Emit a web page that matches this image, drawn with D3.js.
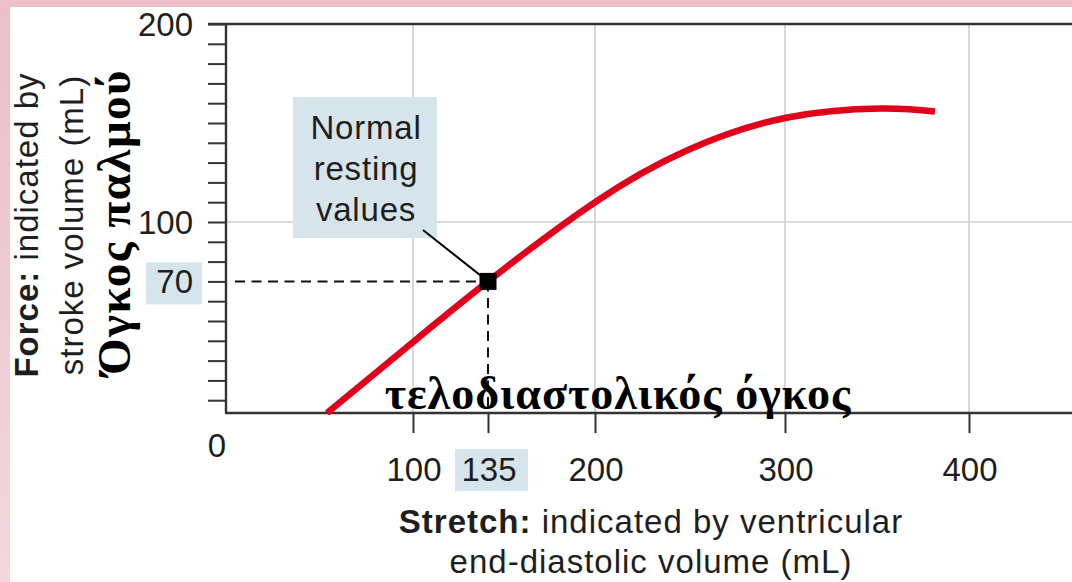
<!DOCTYPE html>
<html>
<head>
<meta charset="utf-8">
<script src="https://cdn.jsdelivr.net/npm/d3@7"></script>
<style>
  html, body { margin: 0; padding: 0; background: #fff; }
  svg { display: block; }
  .sans { font-family: "Liberation Sans", Arial, Helvetica, sans-serif; fill: #1e1e1e; }
  .greek { font-family: "Liberation Serif", "Times New Roman", "DejaVu Serif", serif; font-weight: bold; fill: #000; }
</style>
</head>
<body>
<script>
// ---- data ----
const xTickValues = [100, 135, 200, 300, 400];
const xTickLabels = ["100", "135", "200", "300", "400"];
const yTickValues = [200, 100, 70];
const yTickLabels = ["200", "100", "70"];
const yMinorTicks = d3.range(10, 201, 10);
const xGridValues = [100, 200, 300, 400];
const yGridValues = [100];
// Frank-Starling curve: end-diastolic volume (mL) vs stroke volume (mL)
const edv = [54, 97, 135, 200, 248, 300, 352, 381.5];
const strokeVolume = [3.5, 37, 70, 110, 136, 152.5, 157.3, 155.8];
const restingEDV = [135];
const restingSV = [70];
const annotationLines = ["Normal", "resting", "values"];
const yTitleLines = [["Force:", " indicated by"], ["", "stroke volume (mL)"]];
const xTitleLines = [["Stretch:", " indicated by ventricular"], ["", "end-diastolic volume (mL)"]];
const yGreekTitle = "Όγκος παλμού";
const xGreekTitle = "τελοδιαστολικός όγκος";

const W = 1072, H = 582;
const svg = d3.select("body").append("svg").attr("width", W).attr("height", H);

// pink slide frame
const defs = svg.append("defs");
const grad = defs.append("linearGradient").attr("id", "pinkGrad").attr("x1", 0).attr("y1", 0).attr("x2", 0).attr("y2", 1);
grad.append("stop").attr("offset", "0%").attr("stop-color", "#eabfc9");
grad.append("stop").attr("offset", "100%").attr("stop-color", "#f2d7dd");
svg.append("rect").attr("x", 0).attr("y", 0).attr("width", 10).attr("height", H).attr("fill", "url(#pinkGrad)");
svg.append("rect").attr("x", 0).attr("y", 0).attr("width", W).attr("height", 7).attr("fill", "#ebc1ca");

// ---- scales ----
const x = d3.scaleLinear()
  .domain([0, 100, 135, 200, 300, 400, 456])
  .range([226, 413, 488, 595, 785, 969, W]);
const y = d3.scaleLinear().domain([0, 200]).range([420, 24]);
const axisFloor = 3.5;        // value where the x axis is drawn
const x0 = x(0), yBase = y(axisFloor), yTop = y(200);

// ---- grid ----
svg.append("g").selectAll("line").data(xGridValues).join("line")
  .attr("x1", d => x(d)).attr("x2", d => x(d))
  .attr("y1", yTop).attr("y2", yBase)
  .attr("stroke", "#cfcfcf").attr("stroke-width", 1.6);
svg.append("g").selectAll("line").data(yGridValues).join("line")
  .attr("x1", x0).attr("x2", W)
  .attr("y1", d => y(d)).attr("y2", d => y(d))
  .attr("stroke", "#cfcfcf").attr("stroke-width", 1.6);

// ---- highlight boxes ----
const hlColor = "#d6e5ec";
svg.append("rect").attr("x", x(135) - 33).attr("y", yBase + 36).attr("width", 73).attr("height", 42).attr("fill", hlColor);
svg.append("rect").attr("x", x0 - 80).attr("y", y(70) - 19).attr("width", 56).attr("height", 42).attr("fill", hlColor);

// ---- axes ----
const axisColor = "#333";
const yAxis = d3.axisLeft(y).tickValues(yMinorTicks).tickSize(18).tickFormat("");
const gy = svg.append("g").attr("transform", `translate(${x0},0)`).call(yAxis);
gy.select(".domain").remove();
gy.selectAll(".tick line").attr("stroke", axisColor).attr("stroke-width", 2);
svg.append("line").attr("x1", x0).attr("x2", x0).attr("y1", yTop).attr("y2", yBase)
  .attr("stroke", axisColor).attr("stroke-width", 2.4);
svg.append("line").attr("x1", x0 - 18).attr("x2", W).attr("y1", yTop).attr("y2", yTop)
  .attr("stroke", axisColor).attr("stroke-width", 2.6);
const xAxis = d3.axisBottom(x).tickValues(xTickValues).tickSize(20).tickFormat("");
const gx = svg.append("g").attr("transform", `translate(0,${yBase})`).call(xAxis);
gx.select(".domain").remove();
gx.selectAll(".tick line").attr("stroke", axisColor).attr("stroke-width", 2);
svg.append("line").attr("x1", x0 - 1).attr("x2", W).attr("y1", yBase).attr("y2", yBase)
  .attr("stroke", axisColor).attr("stroke-width", 2.4);

// tick labels
svg.append("g").selectAll("text").data(yTickValues).join("text")
  .attr("class", "sans").attr("x", x0 - 33).attr("y", d => y(d) + 12)
  .attr("text-anchor", "end").attr("font-size", 33)
  .text((d, i) => yTickLabels[i]);
svg.append("g").selectAll("text").data(xTickValues).join("text")
  .attr("class", "sans").attr("x", d => x(d) + 1).attr("y", yBase + 68)
  .attr("text-anchor", "middle").attr("font-size", 33)
  .text((d, i) => xTickLabels[i]);
svg.append("text").attr("class", "sans").attr("x", x0 - 9).attr("y", yBase + 44)
  .attr("text-anchor", "middle").attr("font-size", 33).text("0");

// ---- dashed guides ----
svg.append("line").attr("x1", x0 + 9).attr("x2", x(restingEDV[0])).attr("y1", y(restingSV[0])).attr("y2", y(restingSV[0]))
  .attr("stroke", "#111").attr("stroke-width", 2).attr("stroke-dasharray", "10,6.5");
svg.append("line").attr("x1", x(restingEDV[0])).attr("x2", x(restingEDV[0])).attr("y1", y(restingSV[0])).attr("y2", yBase)
  .attr("stroke", "#111").attr("stroke-width", 2).attr("stroke-dasharray", "10,6.5");

// ---- curve ----
const pts = edv.map((d, i) => [d, strokeVolume[i]]);
const line = d3.line().x(d => x(d[0])).y(d => y(d[1])).curve(d3.curveNatural);
svg.append("path").attr("d", line(pts)).attr("fill", "none")
  .attr("stroke", "#e0001b").attr("stroke-width", 6.5).attr("stroke-linecap", "butt");

// ---- annotation ----
const mx = x(restingEDV[0]), my = y(restingSV[0]);
const boxX = 293, boxY = 97, boxW = 144, boxH = 141;
svg.append("rect").attr("x", boxX).attr("y", boxY).attr("width", boxW).attr("height", boxH).attr("fill", hlColor);
svg.append("line").attr("x1", boxX + boxW - 14).attr("y1", boxY + boxH - 8).attr("x2", mx).attr("y2", my)
  .attr("stroke", "#000").attr("stroke-width", 2);
svg.append("g").selectAll("text").data(annotationLines).join("text")
  .attr("class", "sans").attr("x", boxX + boxW / 2 + 1).attr("y", (d, i) => boxY + 42 + i * 41)
  .attr("text-anchor", "middle").attr("font-size", 33).attr("letter-spacing", 0.8)
  .text(d => d);
svg.append("rect").attr("x", mx - 8.5).attr("y", my - 8.5).attr("width", 17).attr("height", 17).attr("fill", "#000");

// ---- axis titles ----
const yt = svg.append("text").attr("class", "sans").attr("transform", "translate(0,225) rotate(-90)")
  .attr("text-anchor", "middle").attr("font-size", 33).attr("letter-spacing", 1);
yTitleLines.forEach((ln, i) => {
  const t = yt.append("tspan").attr("x", 0).attr("y", 38 + i * 45);
  if (ln[0]) t.append("tspan").attr("font-weight", "bold").text(ln[0]);
  t.append("tspan").text(ln[1]);
});
const xt = svg.append("text").attr("class", "sans").attr("text-anchor", "middle")
  .attr("font-size", 33).attr("letter-spacing", 1);
xTitleLines.forEach((ln, i) => {
  const t = xt.append("tspan").attr("x", 651).attr("y", 533 + i * 40);
  if (ln[0]) t.append("tspan").attr("font-weight", "bold").text(ln[0]);
  t.append("tspan").text(ln[1]);
});

// Greek overlays
svg.append("text").attr("class", "greek").attr("transform", "translate(130,222) rotate(-90)")
  .attr("text-anchor", "middle").attr("font-size", 47).attr("letter-spacing", 1.5).text(yGreekTitle);
svg.append("text").attr("class", "greek").attr("x", 618).attr("y", 409)
  .attr("text-anchor", "middle").attr("font-size", 46).attr("letter-spacing", 1).text(xGreekTitle);
</script>
</body>
</html>
